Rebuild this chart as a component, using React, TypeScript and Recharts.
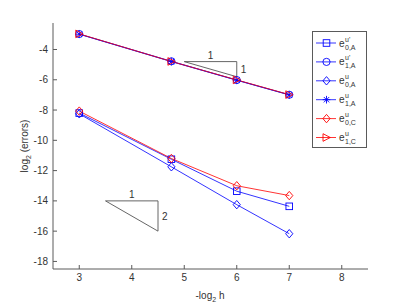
import React from "react";
import {
  LineChart,
  Line,
  XAxis,
  YAxis,
  ReferenceLine,
  ReferenceDot,
} from "recharts";

// -log2 h
const levels = [3, 4.755, 6, 7];

// log2 of the errors
const e0Au1 = [-8.2, -11.25, -13.36, -14.36];
const e1Au1 = [-2.98, -4.78, -6.02, -6.99];
const e0Au = [-8.25, -11.75, -14.25, -16.17];
const e1Au = [-2.99, -4.8, -6.03, -7.0];
const e0Cu = [-8.07, -11.2, -13.0, -13.65];
const e1Cu = [-2.97, -4.79, -6.01, -6.98];

const xTicks = [3, 4, 5, 6, 7, 8];
const yTicks = [-18, -16, -14, -12, -10, -8, -6, -4];

// slope triangles
const triA = [
  { x: 5, y: -4.8 },
  { x: 6, y: -4.8 },
  { x: 6, y: -5.8 },
];
const triB = [
  { x: 3.5, y: -14 },
  { x: 4.5, y: -14 },
  { x: 4.5, y: -16 },
];
const triLabels = [
  { x: 5.5, y: -4.8, text: "1", side: "top" },
  { x: 6, y: -5.3, text: "1", side: "right" },
  { x: 4, y: -14, text: "1", side: "top" },
  { x: 4.5, y: -15, text: "2", side: "right" },
];

const data = levels.map((x, i) => ({
  x,
  e0Au1: e0Au1[i],
  e1Au1: e1Au1[i],
  e0Au: e0Au[i],
  e1Au: e1Au[i],
  e0Cu: e0Cu[i],
  e1Cu: e1Cu[i],
}));

const BLUE = "#0000ff";
const RED = "#ff0000";
const AXIS = "#5a5a5a";
const TEXT = "#333";
const FONT = "'Liberation Sans', Arial, sans-serif";

type Shape = "square" | "circle" | "diamond" | "star" | "triangle";

function Marker({ shape, cx, cy, color }: { shape: Shape; cx: number; cy: number; color: string }) {
  const s = 3.3;
  const sw = 0.9;
  if (shape === "square")
    return <rect x={cx - s} y={cy - s} width={2 * s} height={2 * s} fill="none" stroke={color} strokeWidth={sw} />;
  if (shape === "circle") return <circle cx={cx} cy={cy} r={s + 0.3} fill="none" stroke={color} strokeWidth={sw} />;
  if (shape === "diamond")
    return (
      <polygon
        points={`${cx},${cy - 4.2} ${cx + 3.6},${cy} ${cx},${cy + 4.2} ${cx - 3.6},${cy}`}
        fill="none"
        stroke={color}
        strokeWidth={sw}
      />
    );
  if (shape === "triangle")
    return (
      <polygon
        points={`${cx - 3.5},${cy - 3.8} ${cx + 3.8},${cy} ${cx - 3.5},${cy + 3.8}`}
        fill="none"
        stroke={color}
        strokeWidth={sw}
      />
    );
  return (
    <g stroke={color} strokeWidth={sw}>
      <line x1={cx - 3.8} y1={cy} x2={cx + 3.8} y2={cy} />
      <line x1={cx} y1={cy - 3.8} x2={cx} y2={cy + 3.8} />
      <line x1={cx - 2.7} y1={cy - 2.7} x2={cx + 2.7} y2={cy + 2.7} />
      <line x1={cx - 2.7} y1={cy + 2.7} x2={cx + 2.7} y2={cy - 2.7} />
    </g>
  );
}

const series = [
  { key: "e0Au1", color: BLUE, shape: "square" as Shape, sup: "u'", sub: "0,A" },
  { key: "e1Au1", color: BLUE, shape: "circle" as Shape, sup: "u'", sub: "1,A" },
  { key: "e0Au", color: BLUE, shape: "diamond" as Shape, sup: "u", sub: "0,A" },
  { key: "e1Au", color: BLUE, shape: "star" as Shape, sup: "u", sub: "1,A" },
  { key: "e0Cu", color: RED, shape: "diamond" as Shape, sup: "u", sub: "0,C" },
  { key: "e1Cu", color: RED, shape: "triangle" as Shape, sup: "u", sub: "1,C" },
];

function LegendBox() {
  return (
    <svg
      width={56}
      height={118}
      style={{ position: "absolute", left: 312, top: 31, overflow: "visible" }}
    >
      <rect x={0.5} y={0.5} width={54} height={116} fill="#fff" stroke={AXIS} />
      {series.map((s, i) => {
        const y = 12 + i * 18.9;
        return (
          <g key={s.key}>
            <line x1={4} y1={y} x2={24} y2={y} stroke={s.color} strokeWidth={0.8} />
            <Marker shape={s.shape} cx={14.5} cy={y} color={s.color} />
            <text x={27} y={y + 3.5} fontSize={10} fill={TEXT} fontFamily={FONT}>
              e
            </text>
            <text x={33} y={y - 1.5} fontSize={7} fill={TEXT} fontFamily={FONT}>
              {s.sup}
            </text>
            <text x={33} y={y + 6.5} fontSize={7} fill={TEXT} fontFamily={FONT}>
              {s.sub}
            </text>
          </g>
        );
      })}
    </svg>
  );
}

const tickStyle = { fontSize: 10, fill: TEXT, fontFamily: FONT };

export default function App() {
  return (
    <div style={{ position: "absolute", left: 0, top: 0, width: 407, height: 305, background: "#fff" }}>
      <LineChart
        width={407}
        height={305}
        data={data}
        margin={{ top: 23, right: 39, bottom: 6, left: 0 }}
      >
        <XAxis
          dataKey="x"
          type="number"
          domain={[2.5, 8.5]}
          ticks={xTicks}
          allowDataOverflow
          height={30}
          stroke={AXIS}
          tickSize={-4}
          tickMargin={9}
          tick={tickStyle}
          label={{
            content: () => (
              <text x={210} y={299} textAnchor="middle" fontSize={10} fill={TEXT} fontFamily={FONT}>
                -log
                <tspan fontSize={7} dy={3}>2</tspan>
                <tspan dy={-3}> h</tspan>
              </text>
            ),
          }}
        />
        <XAxis
          xAxisId="top"
          orientation="top"
          dataKey="x"
          type="number"
          domain={[2.5, 8.5]}
          ticks={xTicks}
          height={0}
          stroke={AXIS}
          tickSize={-4}
          tick={false}
        />
        <YAxis
          type="number"
          domain={[-18.5, -2.25]}
          ticks={yTicks}
          allowDataOverflow
          width={53}
          stroke={AXIS}
          tickSize={-4}
          tickMargin={9}
          tick={tickStyle}
          label={{
            content: () => (
              <text
                x={0}
                y={0}
                transform="translate(28,146) rotate(-90)"
                textAnchor="middle"
                fontSize={10}
                fill={TEXT}
                fontFamily={FONT}
              >
                log
                <tspan fontSize={7} dy={3}>2</tspan>
                <tspan dy={-3}> (errors)</tspan>
              </text>
            ),
          }}
        />
        <YAxis
          yAxisId="right"
          orientation="right"
          type="number"
          domain={[-18.5, -2.25]}
          ticks={yTicks}
          width={0}
          stroke={AXIS}
          tickSize={-4}
          tick={false}
        />
        {[triA, triB].map((t, k) =>
          [0, 1, 2].map((j) => (
            <ReferenceLine
              key={`tri${k}${j}`}
              segment={[t[j], t[(j + 1) % 3]]}
              stroke="#555"
              strokeWidth={0.9}
              ifOverflow="visible"
            />
          ))
        )}
        {triLabels.map((l, i) => (
          <ReferenceDot
            key={`lab${i}`}
            x={l.x}
            y={l.y}
            r={0}
            fill="none"
            stroke="none"
            label={{
              content: (p: any) => {
                const vb = p.viewBox || {};
                const cx = (vb.x ?? 0) + (vb.width ?? 0) / 2;
                const cy = (vb.y ?? 0) + (vb.height ?? 0) / 2;
                return l.side === "top" ? (
                  <text x={cx} y={cy - 3} textAnchor="middle" fontSize={10} fill={TEXT} fontFamily={FONT}>
                    {l.text}
                  </text>
                ) : (
                  <text x={cx + 4} y={cy + 3.5} textAnchor="start" fontSize={10} fill={TEXT} fontFamily={FONT}>
                    {l.text}
                  </text>
                );
              },
            }}
          />
        ))}
        {series.map((s) => (
          <Line
            key={s.key}
            dataKey={s.key}
            stroke={s.color}
            strokeWidth={0.8}
            isAnimationActive={false}
            dot={(p: any) => (
              <Marker key={`${s.key}-${p.index}`} shape={s.shape} cx={p.cx} cy={p.cy} color={s.color} />
            )}
            activeDot={false}
          />
        ))}
      </LineChart>
      <LegendBox />
    </div>
  );
}
